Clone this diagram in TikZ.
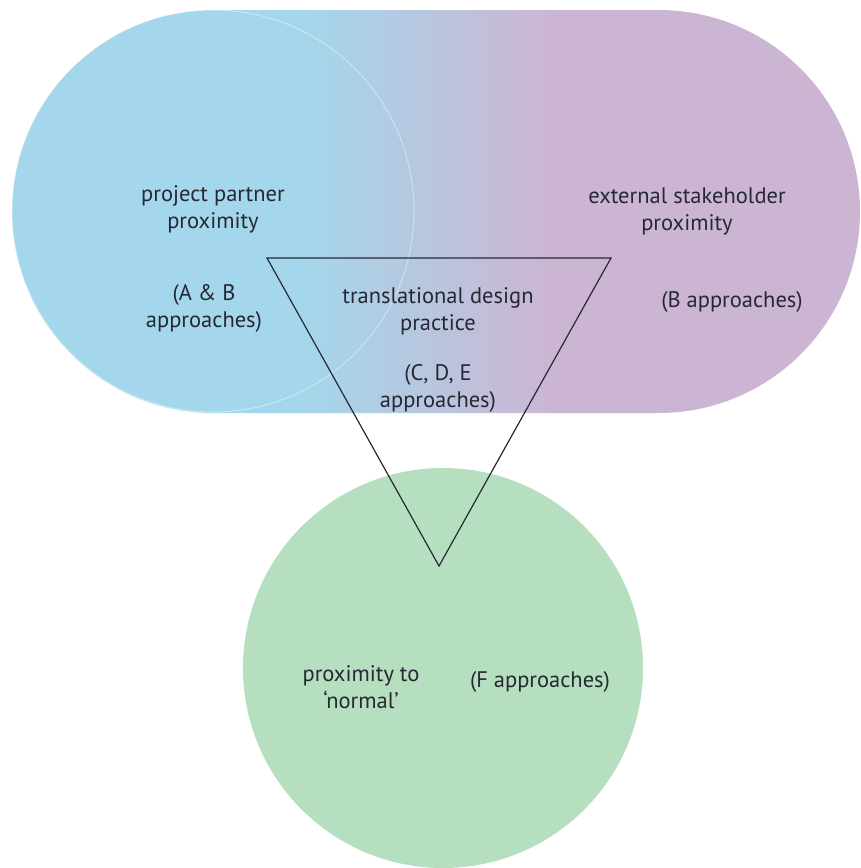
\documentclass[tikz,border=0pt]{standalone}
\usepackage{fontspec}
\setmainfont{PT Sans}
\usepackage{tikz}
\usepackage{xcolor}

\definecolor{sky}{HTML}{A4D7EB}
\definecolor{lilac}{HTML}{CCB5D3}
\definecolor{mint}{HTML}{B6DFBF}
\definecolor{ink}{HTML}{262833}
\pgfdeclarehorizontalshading{skylilac}{100bp}{color(0bp)=(sky); color(42bp)=(sky); color(57bp)=(lilac); color(100bp)=(lilac)}

\tikzset{
  txt/.style={align=center, text=ink, font=\fontsize{22.5}{27}\selectfont, inner sep=0pt},
}

\begin{document}
\begin{tikzpicture}[x=1pt, y=-1pt]
				\useasboundingbox (0,0) rectangle (861,868);
				
				% Stakeholder band
				\shade[shading=skylilac, rounded corners=201.5pt] (12,10) rectangle (860,413);
				\draw[white, opacity=0.4, line width=1pt] (213,211) circle (201);
				
				% Normal circle
				\fill[mint] (443,668) circle (200);
				
				% Translation triangle
				\draw[ink, line width=1.2pt, line join=miter] (267,258) -- (611,258) -- (439,566) -- cycle;
				
				% Labels
				\node[txt] (partner) at (213,209) {project partner\\proximity};
				\node[txt] (ab) at (204,308) {(A \& B\\approaches)};
				\node[txt] (external) at (687,211) {external stakeholder\\proximity};
				\node[txt] (b) at (732,302) {(B approaches)};
				\node[txt] (practice) at (438,311) {translational design\\practice};
				\node[txt] (cde) at (438,388) {(C, D, E\\approaches)};
				\node[txt] (normal) at (361,687) {proximity to\\`normal'};
				\node[txt] (f) at (540,682) {(F approaches)};
			\end{tikzpicture}
\end{document}
